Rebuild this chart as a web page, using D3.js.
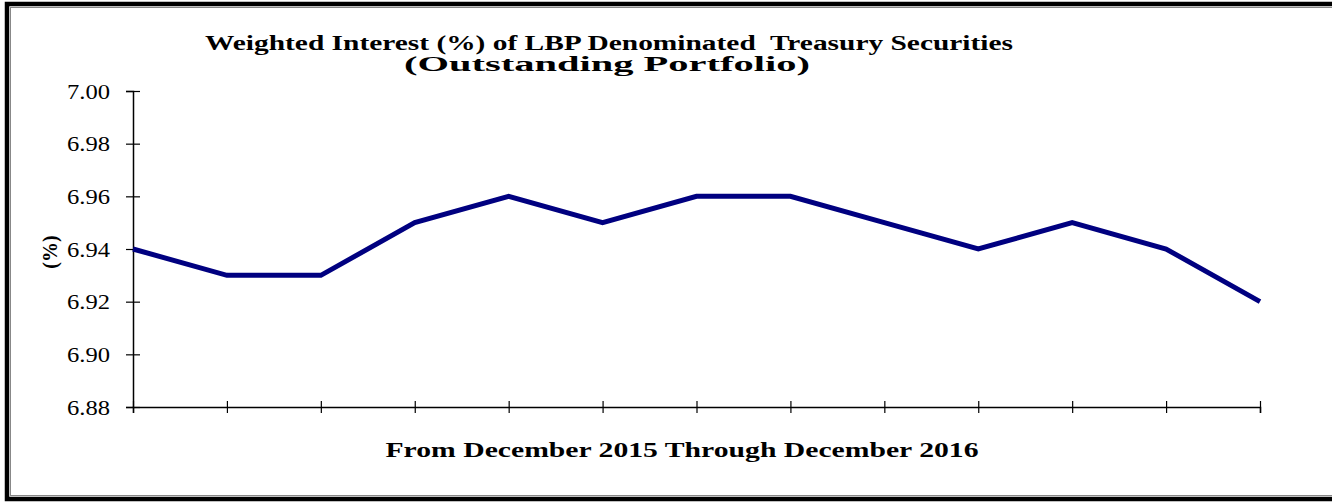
<!DOCTYPE html>
<html><head><meta charset="utf-8">
<script src="https://cdn.jsdelivr.net/npm/d3@7"></script>
<style>html,body{margin:0;padding:0;background:#fff;overflow:hidden}svg{display:block}</style>
</head><body>
<svg id="c" width="1332" height="502"></svg>
<script>
const categories = ["Dec-15","Jan-16","Feb-16","Mar-16","Apr-16","May-16","Jun-16","Jul-16","Aug-16","Sep-16","Oct-16","Nov-16","Dec-16"];
const values = [6.94,6.93,6.93,6.95,6.96,6.95,6.96,6.96,6.95,6.94,6.95,6.94,6.92];
const yTicks = [6.88,6.90,6.92,6.94,6.96,6.98,7.00];
const titleLines = ["Weighted Interest (%) of LBP Denominated  Treasury Securities","(Outstanding Portfolio)"];
const xTitle = "From December 2015 Through December 2016";
const yTitle = "(%)";

const svg = d3.select("#c");
const font = 'Tinos, "Times New Roman", Times, "Liberation Serif", "DejaVu Serif", "Noto Serif", FreeSerif, serif';

// frame
svg.append("rect").attr("x",7).attr("y",4).attr("width",1345).attr("height",495)
  .attr("fill","none").attr("stroke","#000").attr("stroke-width",4.5);
svg.append("rect").attr("x",10.5).attr("y",7.5).attr("width",1340).attr("height",488)
  .attr("fill","none").attr("stroke","#888").attr("stroke-width",1);

const x = d3.scalePoint().domain(categories).range([133,1260]);
const y = d3.scaleLinear().domain([6.88,7.00]).range([407,91]);

// y axis
const gy = svg.append("g").attr("transform","translate(133,0)")
  .call(d3.axisLeft(y).tickValues(yTicks).tickFormat(d3.format(".2f")).tickSizeOuter(0).tickSize(7).tickPadding(16));
gy.attr("font-family",font);
gy.select(".domain").attr("stroke","#000").attr("stroke-width",1.5);
gy.selectAll(".tick line").attr("x1",-7).attr("x2",7).attr("stroke","#000").attr("stroke-width",1.2);
gy.selectAll(".tick text").attr("font-family",font).attr("font-size",22).attr("fill","#000").attr("x",-23)
  .attr("textLength",43).attr("lengthAdjust","spacingAndGlyphs");

// x axis
const gx = svg.append("g").attr("transform","translate(0,407)")
  .call(d3.axisBottom(x).tickFormat("").tickSizeOuter(0).tickSize(6));
gx.select(".domain").attr("stroke","#000").attr("stroke-width",1.5);
gx.selectAll(".tick line").attr("y1",-6).attr("y2",6).attr("stroke","#000").attr("stroke-width",1.2);

// line
svg.append("path").datum(values)
  .attr("d", d3.line().x((d,i)=>x(categories[i])).y(d=>y(d)))
  .attr("fill","none").attr("stroke","#000080").attr("stroke-width",5)
  .attr("stroke-linejoin","miter");

// titles
svg.append("text").attr("x",609).attr("y",50).attr("text-anchor","middle")
  .attr("font-family",font).attr("font-weight","bold").attr("font-size",20)
  .attr("textLength",808).attr("lengthAdjust","spacingAndGlyphs")
  .style("white-space","pre").text(titleLines[0]);
svg.append("text").attr("x",607).attr("y",71).attr("text-anchor","middle")
  .attr("font-family",font).attr("font-weight","bold").attr("font-size",20)
  .attr("textLength",406).attr("lengthAdjust","spacingAndGlyphs").text(titleLines[1]);

svg.append("text").attr("x",682).attr("y",457).attr("text-anchor","middle")
  .attr("font-family",font).attr("font-weight","bold").attr("font-size",22)
  .attr("textLength",593).attr("lengthAdjust","spacingAndGlyphs").text(xTitle);

svg.append("text").attr("transform","translate(57,252) rotate(-90)").attr("text-anchor","middle")
  .attr("font-family",font).attr("font-weight","bold").attr("font-size",20).text(yTitle);
</script>
</body></html>
